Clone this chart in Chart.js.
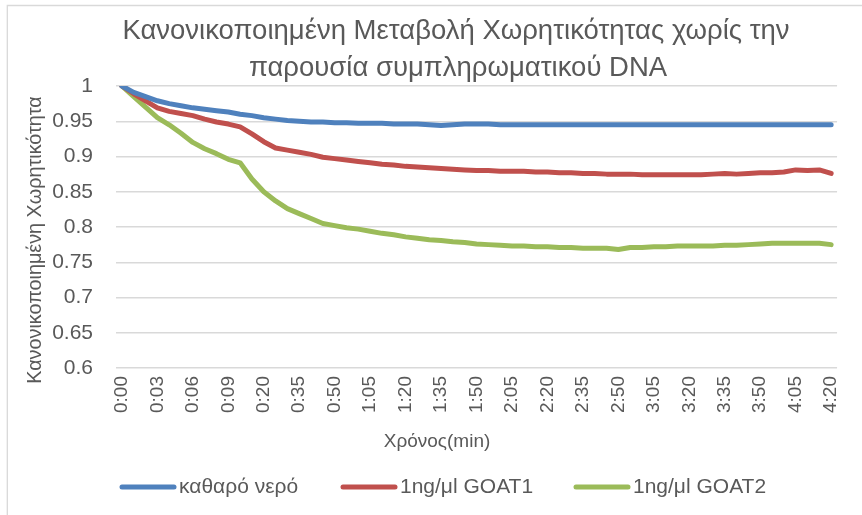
<!DOCTYPE html>
<html>
<head>
<meta charset="utf-8">
<script src="https://cdn.jsdelivr.net/npm/chart.js@4/dist/chart.umd.min.js"></script>
<style>
  html, body { margin: 0; padding: 0; background: #ffffff; }
  #wrap { width: 862px; height: 515px; }
</style>
</head>
<body>
<div id="wrap"><canvas id="chart" width="862" height="515"></canvas></div>
<script>
// Sampling times (m:ss): every second for the first 10 s, then every 5 s
const timeLabels = [
  '0:00','0:01','0:02','0:03','0:04','0:05','0:06','0:07','0:08','0:09','0:10',
  '0:15','0:20','0:25','0:30','0:35','0:40','0:45','0:50','0:55','1:00',
  '1:05','1:10','1:15','1:20','1:25','1:30','1:35','1:40','1:45','1:50',
  '1:55','2:00','2:05','2:10','2:15','2:20','2:25','2:30','2:35','2:40',
  '2:45','2:50','2:55','3:00','3:05','3:10','3:15','3:20','3:25','3:30',
  '3:35','3:40','3:45','3:50','3:55','4:00','4:05','4:10','4:15','4:20'
];

// Normalised capacitance, pure water
const pureWater = [
  1.000,0.991,0.985,0.979,0.975,0.972,0.969,0.967,0.965,0.963,0.960,
  0.958,0.955,0.953,0.951,0.950,0.949,0.949,0.948,0.948,0.947,
  0.947,0.947,0.946,0.946,0.946,0.945,0.944,0.945,0.946,0.946,
  0.946,0.945,0.945,0.945,0.945,0.945,0.945,0.945,0.945,0.945,
  0.945,0.945,0.945,0.945,0.945,0.945,0.945,0.945,0.945,0.945,
  0.945,0.945,0.945,0.945,0.945,0.945,0.945,0.945,0.945,0.945
];

// Normalised capacitance, 1ng/μl GOAT1
const goat1 = [
  1.000,0.989,0.979,0.969,0.964,0.961,0.958,0.953,0.949,0.946,0.942,
  0.932,0.921,0.912,0.909,0.906,0.903,0.899,0.897,0.895,0.893,
  0.891,0.889,0.888,0.886,0.885,0.884,0.883,0.882,0.881,0.880,
  0.880,0.879,0.879,0.879,0.878,0.878,0.877,0.877,0.876,0.876,
  0.875,0.875,0.875,0.874,0.874,0.874,0.874,0.874,0.874,0.875,
  0.876,0.875,0.876,0.877,0.877,0.878,0.881,0.880,0.881,0.876
];

// Normalised capacitance, 1ng/μl GOAT2
const goat2 = [
  1.000,0.985,0.970,0.955,0.945,0.933,0.920,0.911,0.904,0.896,0.891,
  0.868,0.850,0.837,0.826,0.819,0.812,0.805,0.802,0.799,0.797,
  0.794,0.791,0.789,0.786,0.784,0.782,0.781,0.779,0.778,0.776,
  0.775,0.774,0.773,0.773,0.772,0.772,0.771,0.771,0.770,0.770,
  0.770,0.768,0.771,0.771,0.772,0.772,0.773,0.773,0.773,0.773,
  0.774,0.774,0.775,0.776,0.777,0.777,0.777,0.777,0.777,0.775
];

const seriesNames = ['καθαρό νερό', '1ng/μl GOAT1', '1ng/μl GOAT2'];
const seriesColors = ['#4f81bd', '#c0504d', '#9bbb59'];
const titleLines = ['Κανονικοποιημένη Μεταβολή Χωρητικότητας χωρίς την', 'παρουσία συμπληρωματικού DNA'];
const xAxisTitle = 'Χρόνος(min)';
const yAxisTitle = 'Κανονικοποιημένη Χωρητικότητα';

const FONT = "'Liberation Sans', Arial, sans-serif";
const TEXT = '#595959';

// Title, axis titles, legend and the outer frame
const decorations = {
  id: 'decorations',
  afterDraw(chart) {
    const ctx = chart.ctx;
    ctx.save();

    // chart frame (only top and left edges fall inside the canvas)
    ctx.strokeStyle = '#d9d9d9';
    ctx.lineWidth = 1.3;
    ctx.beginPath();
    ctx.moveTo(7.3, 520);
    ctx.lineTo(7.3, 5.5);
    ctx.lineTo(870, 5.5);
    ctx.stroke();

    ctx.fillStyle = TEXT;
    ctx.textAlign = 'center';
    ctx.textBaseline = 'middle';

    ctx.font = '27.5px ' + FONT;
    ctx.fillText(titleLines[0], 456, 31);
    ctx.fillText(titleLines[1], 458, 68);

    ctx.font = '19px ' + FONT;
    ctx.fillText(xAxisTitle, 437, 442);

    ctx.save();
    ctx.translate(36, 240);
    ctx.rotate(-Math.PI / 2);
    ctx.font = '19.8px ' + FONT;
    ctx.fillText(yAxisTitle, 0, 0);
    ctx.restore();

    // legend
    const swatchX = [120, 341, 574];
    const legendY = 487;
    ctx.font = '21px ' + FONT;
    ctx.textAlign = 'left';
    chart.data.datasets.forEach((ds, i) => {
      ctx.strokeStyle = ds.borderColor;
      ctx.lineWidth = 5;
      ctx.lineCap = 'round';
      ctx.beginPath();
      ctx.moveTo(swatchX[i] + 2, legendY);
      ctx.lineTo(swatchX[i] + 54, legendY);
      ctx.stroke();
      ctx.fillStyle = TEXT;
      ctx.fillText(ds.label, swatchX[i] + 59, legendY);
    });
    ctx.restore();
  }
};

const makeSeries = (i, values) => ({
  label: seriesNames[i],
  data: values,
  borderColor: seriesColors[i],
  backgroundColor: seriesColors[i],
  borderWidth: 5,
  pointRadius: 0,
  tension: 0,
  borderCapStyle: 'round',
  borderJoinStyle: 'round',
  fill: false
});

new Chart(document.getElementById('chart'), {
  type: 'line',
  data: {
    labels: timeLabels,
    datasets: [makeSeries(0, pureWater), makeSeries(1, goat1), makeSeries(2, goat2)]
  },
  options: {
    responsive: false,
    animation: false,
    devicePixelRatio: 1,
    layout: { padding: { top: 86, left: 0, right: 7, bottom: 0 } },
    plugins: {
      legend: { display: false },
      title: { display: false },
      tooltip: { enabled: false }
    },
    scales: {
      x: {
        type: 'category',
        offset: true,
        grid: { display: false, drawTicks: false },
        border: { display: false },
        afterFit(scale) { scale.height = 147; },
        ticks: {
          autoSkip: false,
          minRotation: 90,
          maxRotation: 90,
          padding: 8,
          color: TEXT,
          font: { family: FONT, size: 19 },
          callback(value, index) {
            return index % 3 === 0 ? this.getLabelForValue(value) : '';
          }
        }
      },
      y: {
        min: 0.6,
        max: 1,
        grid: { color: '#d9d9d9', lineWidth: 1.5, drawTicks: false },
        border: { display: false },
        afterFit(scale) { scale.width = 116; },
        ticks: {
          stepSize: 0.05,
          padding: 23,
          color: TEXT,
          font: { family: FONT, size: 21 },
          callback(value) { return String(parseFloat(value.toFixed(2))); }
        }
      }
    }
  },
  plugins: [decorations]
});
</script>
</body>
</html>
